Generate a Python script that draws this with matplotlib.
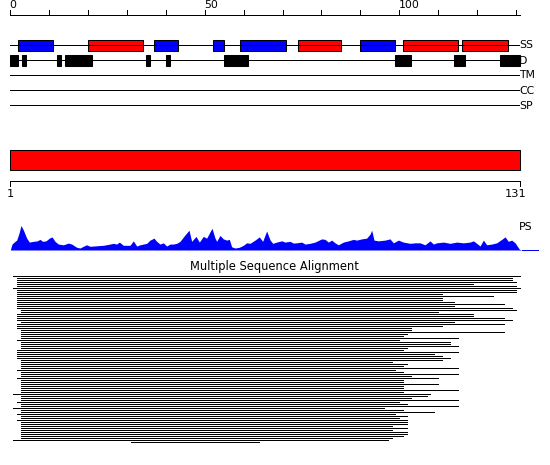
import matplotlib
matplotlib.use("Agg")
import matplotlib.pyplot as plt
from matplotlib.patches import Rectangle
import numpy as np

# sequence length and ruler ticks
SEQ_LEN = 131
top_ticks = list(range(0, 131, 10))
top_labels = {0: "0", 50: "50", 100: "100"}

# secondary structure (start, end, colour)
ss_segments = [
    (2, 11, "blue"), (20, 34, "red"), (37, 43, "blue"), (52, 55, "blue"),
    (59, 71, "blue"), (74, 85, "red"), (90, 99, "blue"), (101, 115, "red"),
    (116, 128, "red"),
]

# disorder segments
d_segments = [
    (0, 2), (3, 4), (12, 13), (14, 21), (35, 36), (40, 41),
    (55, 61), (99, 103), (114, 117), (126, 131),
]

track_names = ["SS", "D", "TM", "CC", "SP"]

# domain bar
domain = (0, 131)
domain_labels = ["1", "131"]

# PS profile (position, score)
ps_pos = [0.0, 0.44, 1.21, 1.64, 2.24, 2.75, 3.35, 4.21, 4.89, 5.92, 6.95, 7.63,
          8.32, 9.18, 10.03, 10.72, 11.49, 12.35, 13.63, 14.92, 15.78, 17.06,
          17.92, 18.77, 19.63, 20.49, 22.2, 23.92, 25.63, 26.49, 27.34, 28.03,
          29.06, 30.77, 31.63, 32.49, 33.34, 34.2, 35.06, 35.91, 36.94, 37.63,
          38.48, 39.34, 40.2, 41.05, 41.91, 42.77, 43.62, 44.91, 45.94, 46.62,
          47.74, 48.59, 49.62, 50.48, 51.16, 51.85, 52.62, 53.05, 53.9, 54.76,
          55.62, 56.3, 56.9, 57.76, 58.87, 59.9, 60.76, 61.62, 62.9, 64.02,
          64.87, 65.9, 66.76, 67.45, 68.47, 69.76, 70.61, 71.9, 72.76, 73.61,
          74.9, 75.76, 77.04, 78.33, 80.04, 80.9, 81.76, 82.61, 83.47, 84.33,
          85.61, 86.9, 88.18, 89.04, 90.33, 91.61, 92.47, 92.9, 93.5, 94.61,
          96.33, 97.61, 98.47, 99.76, 101.04, 102.76, 104.04, 105.33, 106.61,
          107.9, 108.76, 109.61, 111.33, 113.04, 114.76, 116.47, 118.18, 119.04,
          119.9, 120.76, 121.61, 122.47, 123.76, 125.04, 126.33, 127.18, 128.04,
          128.9, 129.76, 130.87, 131.47]
ps_val = [0, 0.24, 0.35, 0.40, 0.68, 0.99, 0.81, 0.48, 0.32, 0.35, 0.37, 0.43,
          0.35, 0.37, 0.48, 0.53, 0.35, 0.24, 0.21, 0.28, 0.24, 0.11,
          0.08, 0.15, 0.21, 0.15, 0.17, 0.19, 0.24, 0.27, 0.24, 0.32,
          0.19, 0.19, 0.37, 0.16, 0.21, 0.24, 0.27, 0.40, 0.48, 0.35,
          0.24, 0.29, 0.16, 0.24, 0.24, 0.27, 0.35, 0.61, 0.80, 0.35,
          0.55, 0.32, 0.55, 0.48, 0.68, 0.88, 0.48, 0.35, 0.59, 0.45,
          0.40, 0.43, 0.13, 0.08, 0.11, 0.19, 0.29, 0.27, 0.40, 0.53,
          0.35, 0.77, 0.41, 0.27, 0.32, 0.37, 0.32, 0.35, 0.28, 0.29,
          0.32, 0.24, 0.27, 0.32, 0.45, 0.43, 0.32, 0.40, 0.29, 0.21,
          0.32, 0.37, 0.43, 0.40, 0.45, 0.48, 0.64, 0.80, 0.40, 0.37,
          0.40, 0.45, 0.29, 0.40, 0.32, 0.27, 0.29, 0.29, 0.21,
          0.37, 0.24, 0.29, 0.32, 0.27, 0.32, 0.29, 0.32, 0.37,
          0.27, 0.16, 0.40, 0.21, 0.24, 0.29, 0.43, 0.53, 0.35,
          0.40, 0.29, 0.03, 0]
ps_tail_end = 135.6

# multiple sequence alignment hits (start, end)
msa_start = ([0.8] + [1.8] * 5 + [0.8] + [1.8] * 10 + [2.8] * 2 + [1.8] * 4 + [2.8]
             + [1.8] * 3 + [2.8] * 5 + [1.8] + [2.8] * 4 + [1.8] * 5 + [2.8] * 5
             + [1.8] + [2.8] * 3 + [1.8] + [2.8] * 7 + [0.8] + [2.8] * 3 + [1.8]
             + [2.8] * 2 + [0.8] + [2.8] * 2 + [1.8] + [2.8] * 2 + [1.8] + [2.8] * 9
             + [0.8] + [31])
msa_end = [131, 129, 129, 130, 119, 130, 131, 130, 130, 111, 124, 111, 111, 114,
           127, 114, 129, 130, 110, 119, 119, 127, 129, 114, 127, 111, 103, 103,
           127, 102, 101, 115, 100, 113, 113, 115, 102, 101, 115, 109, 111, 113,
           111, 98, 102, 101, 115, 99, 101, 115, 103, 110, 101, 101, 110, 101,
           101, 115, 101, 108, 107, 103, 115, 100, 102, 115, 96, 101, 109, 99,
           102, 100, 102, 102, 102, 98, 102, 98, 102, 102, 101, 98, 97, 64]

PX = 3.89   # pixels per residue
X0 = 10.3   # pixel of residue 0
LW = 0.75   # box edges
LN = 0.5    # crisp one-pixel lines

fig = plt.figure(figsize=(5.5, 4.65), dpi=100)
ax = fig.add_axes([0, 0, 1, 1])
ax.set_xlim(-X0 / PX, (550 - X0) / PX)
ax.set_ylim(465, 0)
ax.axis("off")

# top ruler
ax.plot([0, SEQ_LEN], [15.5, 15.5], color="black", lw=LN, antialiased=False)
for t in top_ticks:
    ax.plot([t, t], [10.5, 15.5], color="black", lw=LN, antialiased=False)
    if t in top_labels:
        ax.text(t - 0.2, 10, top_labels[t], ha="left", va="bottom", fontsize=7.8)

# feature tracks
track_y = [45.5, 60.5, 75.5, 90.5, 105.5]
for name, y in zip(track_names, track_y):
    ax.plot([0, SEQ_LEN - 0.3], [y, y], color="black", lw=LN, antialiased=False)
    ax.text(SEQ_LEN - 0.2, y, name, ha="left", va="center", fontsize=7.8)

for s, e, c in ss_segments:
    ax.add_patch(Rectangle((s, track_y[0] - 5.3), e - s, 10.6,
                           facecolor=c, edgecolor="black", lw=LW))
for s, e in d_segments:
    ax.add_patch(Rectangle((s, track_y[1] - 5.3), e - s, 10.6,
                           facecolor="black", edgecolor="black", lw=LW))

# domain bar
ax.add_patch(Rectangle((domain[0], 150), domain[1] - domain[0], 20,
                       facecolor="red", edgecolor="black", lw=LW))
ax.plot([domain[0], domain[1]], [181.5, 181.5], color="black", lw=LN, antialiased=False)
ax.plot([domain[0], domain[0]], [181.5, 186], color="black", lw=LN, antialiased=False)
ax.plot([domain[1], domain[1]], [181.5, 186], color="black", lw=LN, antialiased=False)
ax.text(domain[0], 189, domain_labels[0], ha="center", va="top", fontsize=8.2)
ax.text(domain[1] - 1, 189, domain_labels[1], ha="center", va="top", fontsize=8.2)

# PS profile
base = 250
ps_y = [base - v * 24.7 for v in ps_val]
ax.fill_between(ps_pos, ps_y, base, color="#0000ff", lw=0)
ax.plot([ps_pos[-1], ps_tail_end], [base - 0.5, base - 0.5], color="#0000ff",
        lw=LN, antialiased=False)
ax.text(SEQ_LEN - 0.2, 226.5, "PS", ha="left", va="center", fontsize=7.8)

# multiple sequence alignment
ax.text(67.8, 266, "Multiple Sequence Alignment", ha="center", va="center", fontsize=8.3)
msa_y = 275.5 + 2 * np.arange(len(msa_end))
ax.hlines(msa_y, msa_start, msa_end, color="black", lw=LN, antialiased=False)

fig.savefig("out.png", dpi=100)
